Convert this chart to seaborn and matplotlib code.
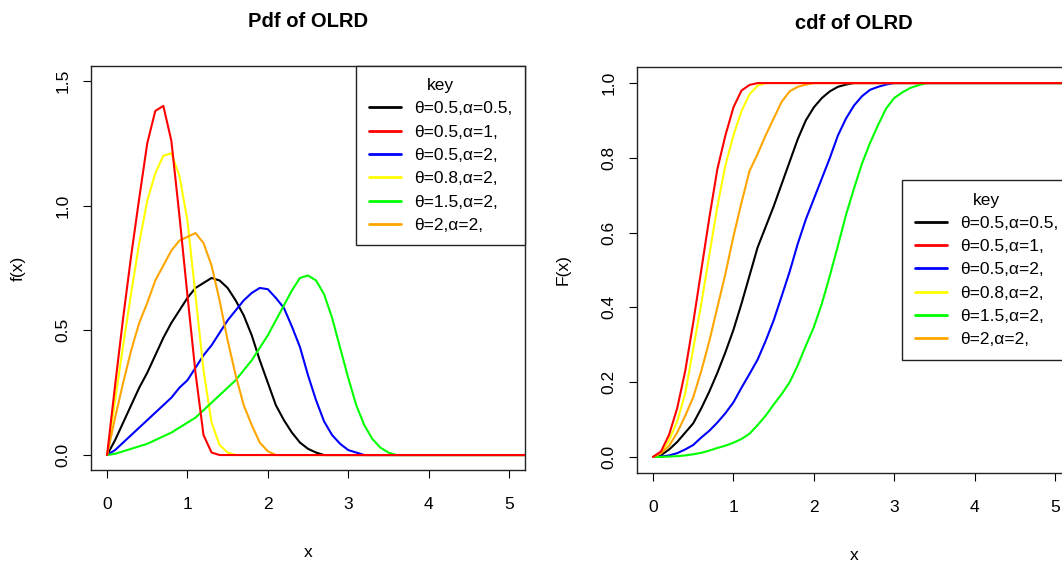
import numpy as np
import pandas as pd
import matplotlib
matplotlib.use("Agg")
import matplotlib.pyplot as plt
import seaborn as sns

sns.set_theme(style="ticks")
plt.rcParams['font.family'] = ['Liberation Sans', 'DejaVu Sans']
plt.rcParams['text.color'] = 'black'
plt.rcParams['axes.labelcolor'] = 'black'

# common x grid (0 .. 3.6 by 0.1) plus a tail point beyond the axis limit
x_grid = [0.0, 0.1, 0.2, 0.3, 0.4, 0.5, 0.6, 0.7, 0.8, 0.9,
          1.0, 1.1, 1.2, 1.3, 1.4, 1.5, 1.6, 1.7, 1.8, 1.9,
          2.0, 2.1, 2.2, 2.3, 2.4, 2.5, 2.6, 2.7, 2.8, 2.9,
          3.0, 3.1, 3.2, 3.3, 3.4, 3.5, 3.6, 6.0]

labels = ["θ=0.5,α=0.5,", "θ=0.5,α=1,", "θ=0.5,α=2,",
          "θ=0.8,α=2,", "θ=1.5,α=2,", "θ=2,α=2,"]
colors = ["black", "red", "blue", "yellow", "#00FF00", "orange"]

# pdf values
pdf_black = [0, .06, .13, .20, .27, .33, .40, .47, .53, .58,
             .63, .67, .69, .71, .70, .67, .62, .56, .48, .38,
             .29, .20, .14, .09, .05, .025, .01, 0, 0, 0,
             0, 0, 0, 0, 0, 0, 0, 0]
pdf_red = [0, .28, .55, .80, 1.03, 1.25, 1.38, 1.40, 1.26, .96,
           .64, .33, .08, .01, 0, 0, 0, 0, 0, 0,
           0, 0, 0, 0, 0, 0, 0, 0, 0, 0,
           0, 0, 0, 0, 0, 0, 0, 0]
pdf_blue = [0, .02, .05, .08, .11, .14, .17, .20, .23, .27,
            .30, .35, .40, .44, .49, .54, .58, .62, .65, .67,
            .665, .63, .59, .515, .433, .32, .22, .135, .08, .045,
            .02, .01, 0, 0, 0, 0, 0, 0]
pdf_yellow = [0, .22, .44, .65, .85, 1.02, 1.13, 1.20, 1.21, 1.12,
              .94, .64, .34, .13, .04, .01, 0, 0, 0, 0,
              0, 0, 0, 0, 0, 0, 0, 0, 0, 0,
              0, 0, 0, 0, 0, 0, 0, 0]
pdf_green = [0, .005, .015, .025, .035, .045, .06, .075, .09, .11,
             .13, .15, .18, .21, .24, .27, .30, .34, .38, .43,
             .48, .54, .60, .66, .71, .72, .70, .645, .55, .43,
             .31, .20, .12, .065, .03, .01, 0, 0]
pdf_orange = [0, .15, .29, .42, .53, .61, .70, .76, .82, .86,
              .875, .89, .85, .76, .62, .46, .32, .20, .12, .05,
              .015, 0, 0, 0, 0, 0, 0, 0, 0, 0,
              0, 0, 0, 0, 0, 0, 0, 0]

# cdf values
cdf_black = [0, .005, .02, .04, .065, .09, .13, .175, .225, .28,
             .34, .41, .485, .56, .615, .67, .73, .79, .85, .90,
             .935, .96, .978, .99, .996, 1, 1, 1, 1, 1,
             1, 1, 1, 1, 1, 1, 1, 1]
cdf_red = [0, .015, .06, .13, .23, .36, .50, .64, .77, .86,
           .935, .98, .995, 1, 1, 1, 1, 1, 1, 1,
           1, 1, 1, 1, 1, 1, 1, 1, 1, 1,
           1, 1, 1, 1, 1, 1, 1, 1]
cdf_blue = [0, .001, .004, .01, .02, .032, .052, .07, .092, .117,
            .146, .185, .222, .26, .31, .365, .43, .496, .57, .635,
            .69, .745, .80, .86, .905, .94, .965, .982, .99, .996,
            1, 1, 1, 1, 1, 1, 1, 1]
cdf_yellow = [0, .01, .045, .095, .17, .29, .41, .54, .67, .78,
              .86, .925, .97, .993, 1, 1, 1, 1, 1, 1,
              1, 1, 1, 1, 1, 1, 1, 1, 1, 1,
              1, 1, 1, 1, 1, 1, 1, 1]
cdf_green = [0, 0, .001, .002, .004, .007, .011, .017, .024, .03,
             .038, .048, .062, .085, .11, .14, .168, .20, .245, .297,
             .347, .41, .485, .565, .647, .718, .785, .84, .888, .932,
             .96, .975, .987, .994, 1, 1, 1, 1]
cdf_orange = [0, .01, .03, .065, .11, .16, .23, .31, .40, .49,
              .59, .68, .765, .81, .86, .905, .95, .978, .99, .996,
              1, 1, 1, 1, 1, 1, 1, 1, 1, 1,
              1, 1, 1, 1, 1, 1, 1, 1]

pdf_series = [pdf_black, pdf_red, pdf_blue, pdf_yellow, pdf_green, pdf_orange]
cdf_series = [cdf_black, cdf_red, cdf_blue, cdf_yellow, cdf_green, cdf_orange]

fig = plt.figure(figsize=(10.62, 5.63), dpi=100)
ax1 = fig.add_axes([91 / 1062, 1 - 470 / 563, 434 / 1062, 404 / 563])
ax2 = fig.add_axes([637 / 1062, 1 - 473 / 563, 434 / 1062, 406 / 563])


def draw_panel(ax, series, title, ylabel, yticks, ytick_labels, ylim, legend_loc,
               title_y, xlab_y, ylab_x):
    for vals, col, lab in zip(series, colors, labels):
        df = pd.DataFrame({"x": x_grid, "y": vals})
        sns.lineplot(data=df, x="x", y="y", color=col, linewidth=1.5, ax=ax,
                     label=lab, zorder=4 if col == "red" else 2)
    ax.set_xlim(-0.2, 5.2)
    ax.set_ylim(*ylim)
    ax.set_xticks(range(6))
    ax.set_xticklabels([str(i) for i in range(6)])
    ax.set_yticks(yticks)
    ax.set_yticklabels(ytick_labels, rotation=90, va="center")
    ax.tick_params(direction="out", length=6, width=0.8, colors="black",
                   labelsize=12.5)
    ax.tick_params(axis="x", pad=13.3)
    ax.tick_params(axis="y", pad=9)
    for s in ax.spines.values():
        s.set_visible(True)
        s.set_color("#222222")
        s.set_linewidth(1.0)
    ax.set_title(title, fontsize=14.5, fontweight="bold", y=title_y, pad=0,
                 color="black")
    ax.set_xlabel("x", fontsize=12.5, va="center")
    ax.set_ylabel(ylabel, fontsize=12.5, va="center")
    ax.xaxis.set_label_coords(0.5, xlab_y)
    ax.yaxis.set_label_coords(ylab_x, 0.5)
    leg = ax.legend(title="key", loc=legend_loc[0], bbox_to_anchor=legend_loc[1],
                    frameon=True, fancybox=False, framealpha=1, edgecolor="#222222",
                    borderaxespad=0, fontsize=12.5, title_fontsize=12.5,
                    handlelength=1.85, handletextpad=0.8, labelspacing=0.47,
                    borderpad=0.7)
    leg.get_frame().set_linewidth(1.0)
    for line in leg.get_lines():
        line.set_linewidth(2)


draw_panel(ax1, pdf_series, "Pdf of OLRD", "f(x)", [0, 0.5, 1.0, 1.5],
           ["0.0", "0.5", "1.0", "1.5"], (-0.06, 1.56),
           ("upper right", (1, 1)), 1.097, -0.203, -0.168)
draw_panel(ax2, cdf_series, "cdf of OLRD", "F(x)", [0, 0.2, 0.4, 0.6, 0.8, 1.0],
           ["0.0", "0.2", "0.4", "0.6", "0.8", "1.0"], (-0.043, 1.043),
           ("center right", (1, 0.5)), 1.094, -0.204, -0.17)

fig.savefig("out.png", dpi=100, facecolor="white")
